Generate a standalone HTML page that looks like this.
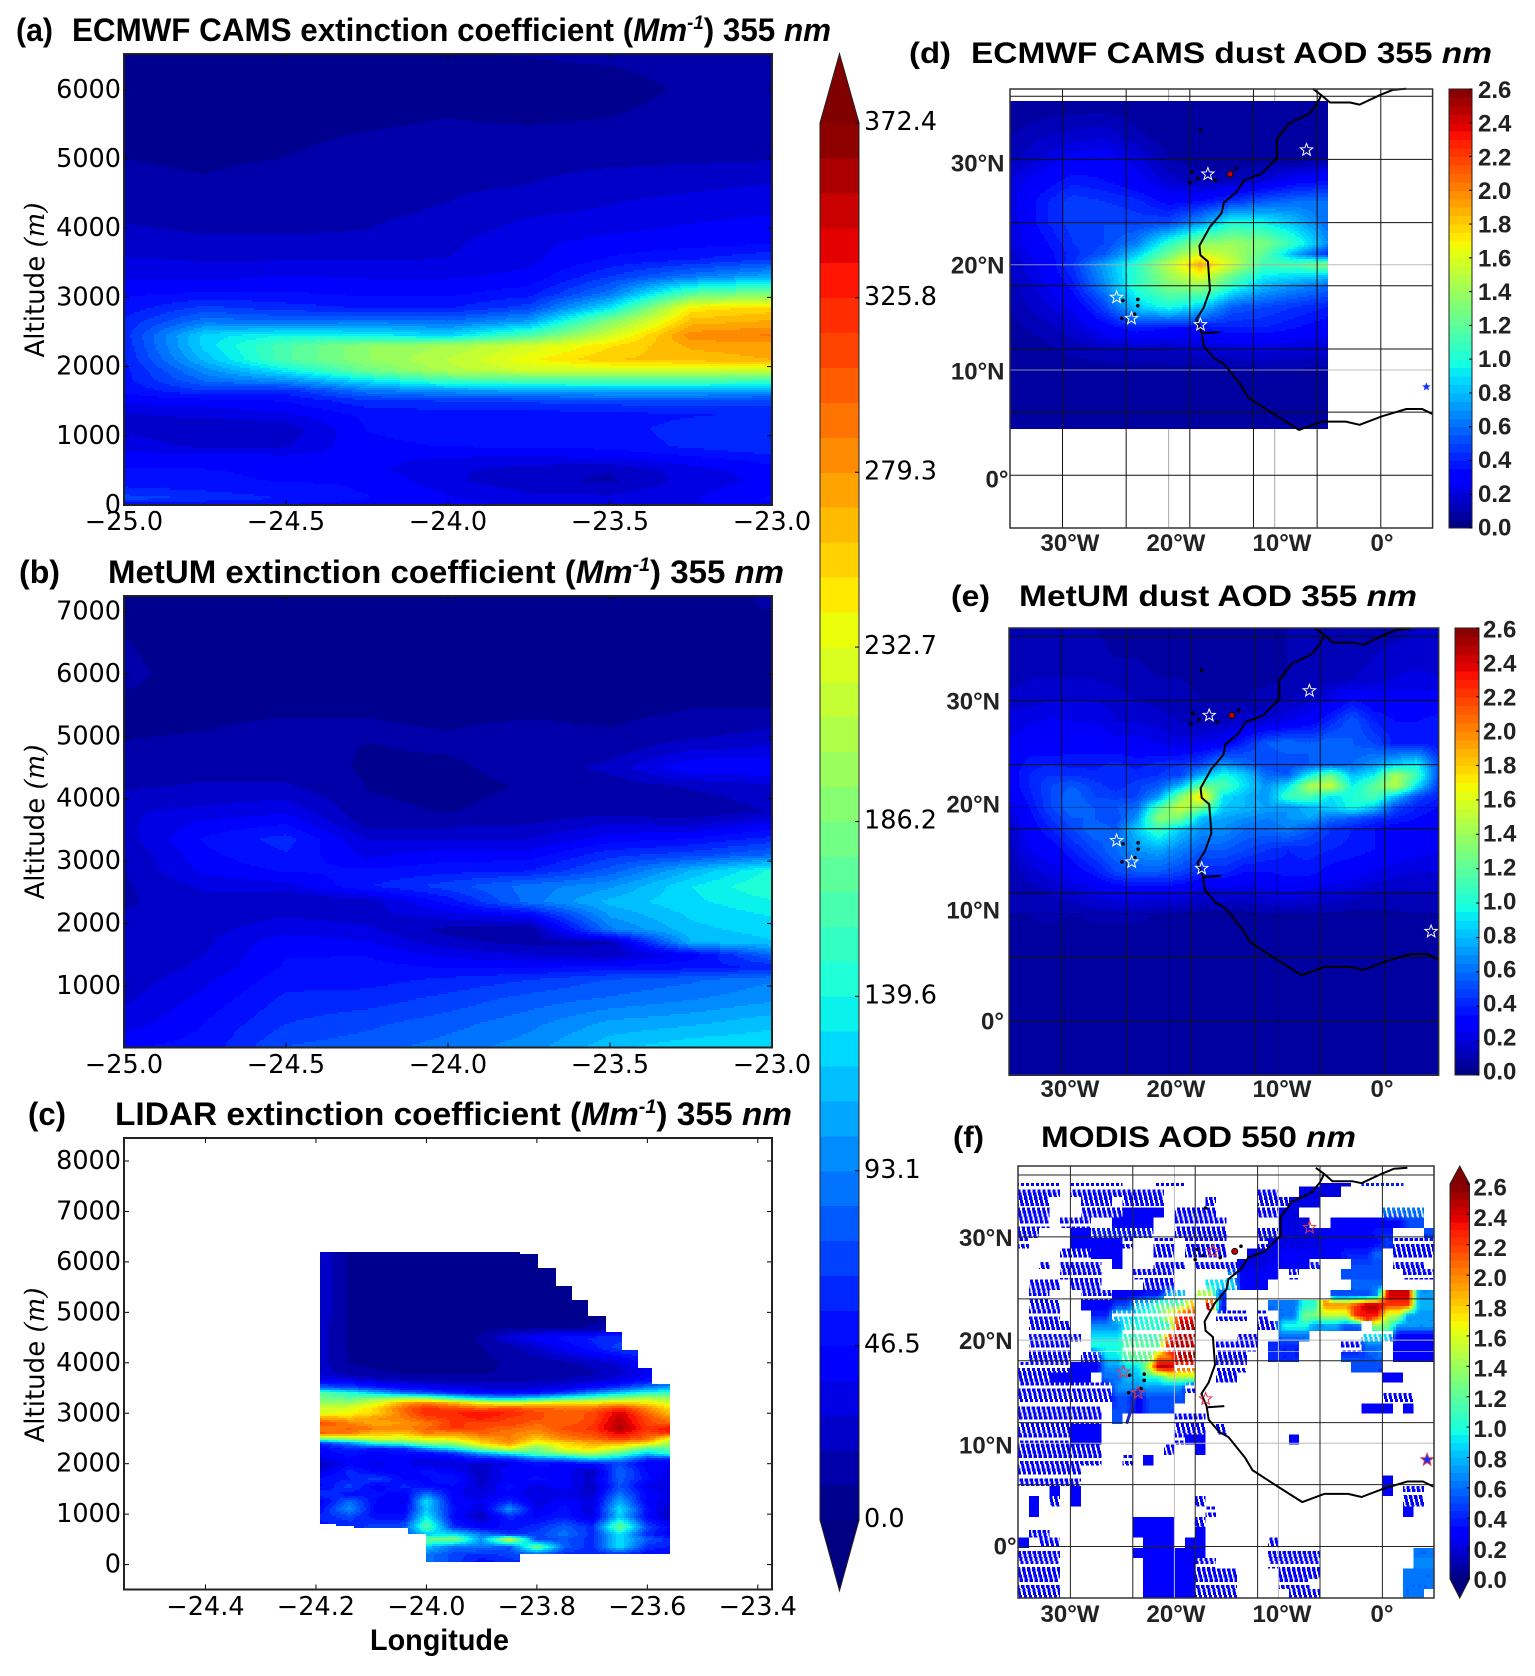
<!DOCTYPE html>
<html lang="en">
<head>
<meta charset="utf-8">
<title>Extinction coefficient and dust AOD panels</title>
<style>
html,body{margin:0;padding:0;background:#fff;}
svg{display:block;}
text{font-family:"DejaVu Sans","Liberation Sans",sans-serif;fill:#000;}
.ttl{font-family:"Liberation Sans",sans-serif;font-weight:700;font-size:30px;}
.ttl-left{font-size:32px;}
.tick{font-size:25.5px;}
.ytitle{font-size:27px;}
.maptick{font-family:"Liberation Sans",sans-serif;font-weight:700;font-size:24px;fill:#222;}
.math{font-family:"DejaVu Serif","Liberation Serif",serif;font-style:italic;}
</style>
</head>
<body>
<svg id="figure" xmlns="http://www.w3.org/2000/svg" width="1535" height="1676" viewBox="0 0 1535 1676">
  <rect width="1535" height="1676" fill="#fff"/>
  <g id="layer"></g>
  <g>
    <text class="ttl ttl-left" x="16" y="41" textLength="37" lengthAdjust="spacingAndGlyphs">(a)</text>
    <text class="ttl ttl-left" x="72" y="41" textLength="759" lengthAdjust="spacingAndGlyphs">ECMWF CAMS extinction coefficient (<tspan font-style="italic">Mm</tspan><tspan font-style="italic" font-size="19" dy="-12">-1</tspan><tspan dy="12">) 355 </tspan><tspan font-style="italic">nm</tspan></text>
    <text class="ttl ttl-left" x="19" y="583" textLength="41" lengthAdjust="spacingAndGlyphs">(b)</text>
    <text class="ttl ttl-left" x="108" y="583" textLength="676" lengthAdjust="spacingAndGlyphs">MetUM extinction coefficient (<tspan font-style="italic">Mm</tspan><tspan font-style="italic" font-size="19" dy="-12">-1</tspan><tspan dy="12">) 355 </tspan><tspan font-style="italic">nm</tspan></text>
    <text class="ttl ttl-left" x="28" y="1125" textLength="38" lengthAdjust="spacingAndGlyphs">(c)</text>
    <text class="ttl ttl-left" x="115" y="1125" textLength="677" lengthAdjust="spacingAndGlyphs">LIDAR extinction coefficient (<tspan font-style="italic">Mm</tspan><tspan font-style="italic" font-size="19" dy="-12">-1</tspan><tspan dy="12">) 355 </tspan><tspan font-style="italic">nm</tspan></text>
    <text class="ttl" x="909" y="63" textLength="42" lengthAdjust="spacingAndGlyphs">(d)</text>
    <text class="ttl" x="971" y="63" textLength="521" lengthAdjust="spacingAndGlyphs">ECMWF CAMS dust AOD 355 <tspan font-style="italic">nm</tspan></text>
    <text class="ttl" x="951" y="606" textLength="39" lengthAdjust="spacingAndGlyphs">(e)</text>
    <text class="ttl" x="1019" y="606" textLength="398" lengthAdjust="spacingAndGlyphs">MetUM dust AOD 355 <tspan font-style="italic">nm</tspan></text>
    <text class="ttl" x="953" y="1147" textLength="31" lengthAdjust="spacingAndGlyphs">(f)</text>
    <text class="ttl" x="1041" y="1147" textLength="315" lengthAdjust="spacingAndGlyphs">MODIS AOD 550 <tspan font-style="italic">nm</tspan></text>
  </g>
  <g>
    <text class="ytitle" transform="translate(44,280) rotate(-90)" text-anchor="middle" textLength="155" lengthAdjust="spacingAndGlyphs">Altitude <tspan class="math">(m)</tspan></text>
    <text class="ytitle" transform="translate(44,822) rotate(-90)" text-anchor="middle" textLength="155" lengthAdjust="spacingAndGlyphs">Altitude <tspan class="math">(m)</tspan></text>
    <text class="ytitle" transform="translate(44,1365) rotate(-90)" text-anchor="middle" textLength="155" lengthAdjust="spacingAndGlyphs">Altitude <tspan class="math">(m)</tspan></text>
    <text class="ttl" x="370" y="1650" textLength="139" lengthAdjust="spacingAndGlyphs">Longitude</text>
  </g>
</svg>
<script>
/* ---------- panel (a) ECMWF CAMS extinction (Mm-1) ---------- */
const camsCurtainLons = [-25,-24.75,-24.5,-24.25,-24,-23.75,-23.5,-23.25,-23];
const camsCurtainAlts = [0,100,200,350,500,650,850,1100,1300,1500,1650,1800,1950,2100,2300,2450,2650,2850,3050,3300,3550,3800,4200,4600,5000,5600,6000,6550];
const camsCurtainExt = [
[45,45,44,42,42,35,30,35,45],
[70,64,55,47,38,30,30,36,48],
[60,56,50,46,36,27,25,34,45],
[50,48,46,46,30,21,17,32,40],
[47,47,45,40,30,23,19,33,42],
[44,44,43,40,35,33,35,42,50],
[33,26,27,44,47,48,50,58,65],
[27,19,22,47,52,50,52,60,65],
[27,30,35,49,50,50,52,55,58],
[40,42,47,62,65,67,70,70,68],
[48,65,60,90,100,105,110,110,105],
[52,85,100,130,160,165,165,165,160],
[52,98,135,180,210,225,225,225,225],
[55,115,165,195,215,240,260,265,270],
[58,125,165,195,205,225,250,272,275],
[60,125,140,135,125,165,225,285,290],
[58,90,85,90,85,105,190,265,272],
[50,68,60,55,55,70,130,245,255],
[45,48,48,45,45,52,90,170,190],
[36,34,38,36,36,40,65,90,110],
[29,27,27,28,28,35,48,55,65],
[22,20,20,20,26,35,40,42,44],
[17,15,15,17,20,27,30,35,37],
[11,10,12,15,17,19,24,26,29],
[9.3,8.5,9.4,12,13,15,16,17,18],
[7,7,7,8,9.3,8,9.3,12,14],
[6,6,6,6,6,6,6.5,10.5,12],
[6,6,6,6,9,10,11,12,13]];
const camsCurtainXTicks = [-25,-24.5,-24,-23.5,-23];
const camsCurtainYTicks = [0,1000,2000,3000,4000,5000,6000];

/* ---------- panel (b) MetUM extinction (Mm-1) ---------- */
const metumCurtainLons = [-25,-24.75,-24.5,-24.25,-24,-23.75,-23.5,-23.25,-23];
const metumCurtainAlts = [20,400,800,1100,1300,1500,1700,1900,2100,2350,2600,2850,3100,3350,3600,3800,4200,4500,4800,5100,5400,6000,7200];
const metumCurtainExt = [
[46,50,75,80,88,98,118,128,130],
[32,47,65,72,80,90,105,110,118],
[26,40,58,60,68,78,85,92,100],
[22,35,52,52,58,65,75,82,92],
[21,30,48,50,46,45,50,52,58],
[20,28,46,46,35,28,22,42,85],
[20,26,44,38,22,15,18,112,120],
[20,25,33,30,15,10,90,118,125],
[20,24,28,25,30,38,102,122,130],
[17,25,18,22,50,88,115,128,138],
[17,30,33,55,70,88,100,130,150],
[18,40,48,48,52,55,78,112,142],
[19,44,55,35,42,42,62,70,85],
[24,48,60,28,28,28,42,48,60],
[25,40,46,15,16,18,28,25,38],
[27,30,35,11,9,12,14,9.4,20],
[17,20,20,9,7,10,12,20,26],
[13,15,15,8,8,12,22,46,46],
[10,11,12,9,10,13,13,26,30],
[8.5,9.2,11,10,9.3,10.5,9.5,12,20],
[8,8,8.5,9,8,8.5,8,9.5,9.5],
[10.5,7,7,7,7,7,7,7,7],
[8,7,7,7,7,7,7,7,10]];
const metumCurtainXTicks = [-25,-24.5,-24,-23.5,-23];
const metumCurtainYTicks = [1000,2000,3000,4000,5000,6000,7000];

/* ---------- panel (c) LIDAR extinction (Mm-1) ---------- */
const lidarLons = [-24.19,-24.14,-24.09,-24.04,-24,-23.95,-23.9,-23.85,-23.8,-23.75,-23.7,-23.65,-23.6,-23.56];
const lidarAlts = [6200,5000,4700,4500,4300,4000,3800,3650,3500,3400,3300,3200,3100,3000,2900,2800,2700,2600,2500,2400,2300,2200,2100,2000,1850,1700,1550,1400,1250,1100,950,750,600,500,350,200,50];
const lidarExt = [
[25,8,6,6,6,6,6,6,6,6,6,6,6,6],
[25,8,7,7,7,7,7,7,7,7,7,7,7,7],
[22,8,7,7,7,7,7,7,8,8,10,12,14,14],
[22,8,7,7,8,8,10,30,42,50,58,62,62,60],
[22,8,7,8,8,8,9,14,26,40,52,70,70,50],
[22,9,8,8,8,8,8,10,12,16,22,30,55,55],
[25,12,10,9,9,9,9,10,12,12,16,25,35,50],
[40,35,25,20,18,16,16,16,18,20,25,35,50,65],
[85,75,60,45,40,35,30,28,30,35,50,70,95,110],
[170,150,120,90,80,60,50,48,55,70,100,125,150,150],
[180,170,190,200,190,150,120,110,125,150,170,190,210,200],
[200,200,230,275,290,270,240,230,240,250,250,260,250,225],
[225,230,255,300,320,310,300,310,300,295,295,320,285,250],
[230,240,255,295,325,325,335,325,310,300,310,345,300,265],
[275,265,280,290,310,320,330,315,310,300,310,350,310,285],
[310,290,270,280,290,320,310,315,300,300,315,355,310,305],
[290,300,290,285,300,320,310,300,290,310,320,360,320,335],
[300,290,260,260,290,280,300,290,280,300,310,340,310,320],
[190,210,235,230,240,250,275,290,260,290,300,320,300,240],
[60,90,140,160,190,200,250,280,230,250,270,270,250,200],
[45,60,55,60,100,135,190,230,180,240,250,220,170,170],
[40,50,42,50,45,60,100,130,170,190,210,170,120,150],
[35,45,40,38,35,42,55,60,90,100,130,110,65,60],
[20,40,35,40,28,30,25,35,50,45,50,70,40,40],
[30,60,42,40,50,40,20,45,40,42,20,85,45,35],
[50,55,70,45,45,55,22,40,50,40,25,80,50,30],
[45,70,40,60,45,45,25,50,30,45,20,75,35,28],
[65,50,50,40,90,40,30,42,30,30,25,90,45,35],
[40,85,45,35,130,40,38,60,30,45,30,110,40,30],
[50,100,40,40,120,50,30,100,35,50,30,130,50,22],
[60,70,50,50,135,45,20,60,45,55,30,120,45,20],
[50,60,70,75,170,60,40,50,60,80,60,180,70,45],
[50,60,70,75,120,130,90,60,70,90,60,130,60,40],
[50,60,70,75,180,190,100,230,70,75,60,130,80,60],
[50,60,70,75,120,85,90,75,180,80,60,130,60,55],
[50,60,70,75,90,70,60,70,75,60,55,60,50,45],
[50,60,70,75,90,70,50,60,70,60,55,60,50,45]];
const lidarEdgeLons = [-24.192,-24.163,-24.13,-24.035,-24,-23.83,-23.797,-23.767,-23.735,-23.706,-23.675,-23.647,-23.617,-23.59,-23.56];
const lidarTopAlts = [6207,6207,6207,6207,6207,6163,5889,5533,5259,4911,4593,4237,3911,3593];
const lidarBottomAlts = [815,763,719,622,37,215,215,215,215,215,215,215,215,215];
const lidarXTicks = [-24.4,-24.2,-24,-23.8,-23.6,-23.4];
const lidarYTicks = [0,1000,2000,3000,4000,5000,6000,7000,8000];

/* ---------- shared extinction colour bar ---------- */
const extBarTicks = [0,46.5,93.1,139.6,186.2,232.7,279.3,325.8,372.4];
const extBarMax = 372.4;
const extBarBands = 40;

/* ---------- panel (d) ECMWF CAMS dust AOD ---------- */
const camsMapLons = [-35,-32,-29,-26,-23,-20,-17,-14,-11,-8,-5];
const camsMapLats = [35.6,32,30,28,26,24,22,21,20,19,18,16,14,12,10,8,4.5];
const camsMapAod = [
[.05,.05,.05,.05,.05,.05,.05,.05,.05,.05,.06],
[.1,.15,.18,.2,.12,.07,.06,.06,.06,.06,.06],
[.13,.2,.28,.3,.22,.1,.07,.06,.07,.07,.08],
[.2,.3,.38,.35,.28,.18,.12,.13,.2,.3,.35],
[.22,.38,.48,.45,.42,.32,.35,.45,.55,.6,.6],
[.2,.38,.48,.5,.48,.5,.7,1.0,.95,.8,.6],
[.2,.32,.45,.5,.65,1.05,1.35,1.4,1.3,1.05,.7],
[.17,.3,.42,.55,.85,1.25,1.6,1.45,1.2,.75,.42],
[.15,.27,.45,.75,1.05,1.5,1.9,1.55,1.1,1.15,1.35],
[.14,.25,.42,.72,1.05,1.4,1.65,1.25,.95,.9,.85],
[.13,.22,.38,.68,1.05,1.3,1.4,1.05,.8,.7,.6],
[.1,.18,.27,.5,.85,1.0,.85,.55,.5,.45,.4],
[.08,.12,.18,.3,.4,.35,.35,.4,.4,.35,.3],
[.07,.08,.12,.15,.15,.15,.18,.2,.22,.2,.18],
[.05,.06,.07,.07,.07,.08,.08,.08,.09,.09,.09],
[.05,.05,.05,.05,.05,.05,.05,.05,.05,.05,.05],
[.05,.05,.05,.05,.05,.05,.05,.05,.05,.05,.05]];

/* ---------- panel (e) MetUM dust AOD ---------- */
const metumMapLons = [-35,-33,-31,-29,-27,-25,-23,-21,-19,-17,-15,-13,-11,-9,-7,-5,-3,-1,1,3,5];
const metumMapLats = [36.9,34,32,30,28,26,24,23,22,21,20,19,18,16,14,12,10,8,6,4,2,0,-2,-5];
const metumMapAod = [
[.1,.1,.1,.1,.1,.08,.08,.08,.08,.08,.08,.08,.08,.1,.1,.12,.12,.12,.12,.15,.15],
[.1,.12,.12,.12,.12,.1,.1,.08,.08,.08,.08,.08,.08,.1,.1,.13,.13,.15,.18,.18,.18],
[.12,.15,.15,.15,.15,.13,.12,.1,.1,.09,.09,.09,.09,.1,.1,.13,.15,.18,.2,.22,.2],
[.18,.18,.2,.2,.2,.18,.15,.13,.12,.1,.1,.1,.12,.15,.18,.25,.35,.3,.3,.28,.3],
[.22,.24,.26,.25,.25,.2,.2,.18,.15,.12,.14,.18,.2,.25,.3,.42,.55,.4,.35,.35,.38],
[.25,.3,.28,.32,.32,.28,.28,.25,.22,.25,.28,.42,.55,.6,.55,.6,.55,.5,.38,.4,.35],
[.3,.38,.4,.38,.38,.42,.38,.42,.45,.5,.7,.6,.5,.5,.55,.55,.6,.7,.85,.95,.5],
[.3,.4,.45,.45,.42,.42,.42,.45,.5,.75,1.0,.85,.6,.55,.95,1.25,.8,.95,1.45,1.1,.5],
[.3,.4,.5,.55,.48,.42,.48,.55,.8,1.25,1.15,.9,.7,.9,1.45,1.55,.95,1.2,1.5,.9,.45],
[.25,.38,.5,.6,.5,.48,.5,.7,1.3,1.8,.9,.8,.7,1.1,1.15,.9,1.0,1.15,.8,.5,.4],
[.22,.35,.5,.6,.55,.55,.6,1.15,1.55,1.3,.85,.8,.75,.7,.8,.85,1.0,.85,.5,.4,.35],
[.18,.32,.45,.55,.55,.5,.7,1.35,1.3,.8,.75,.7,.65,.7,.75,.6,.55,.45,.4,.35,.3],
[.15,.3,.4,.5,.6,.55,.85,1.1,.85,.7,.7,.6,.6,.65,.55,.45,.4,.35,.3,.3,.25],
[.12,.25,.3,.4,.5,.6,.7,.75,.65,.55,.55,.5,.45,.4,.42,.4,.38,.35,.3,.28,.25],
[.1,.18,.22,.3,.38,.5,.55,.55,.5,.42,.42,.35,.35,.38,.38,.32,.3,.25,.22,.2,.2],
[.1,.12,.15,.18,.22,.25,.25,.25,.25,.2,.2,.2,.22,.25,.22,.2,.18,.15,.14,.15,.15],
[.1,.1,.12,.1,.12,.12,.12,.1,.09,.08,.08,.08,.1,.1,.1,.09,.08,.09,.09,.1,.1],
[.1,.09,.07,.06,.06,.06,.06,.06,.06,.05,.05,.05,.06,.06,.06,.06,.06,.06,.06,.07,.07],
[.05,.05,.05,.05,.05,.05,.05,.05,.05,.05,.05,.05,.05,.05,.05,.05,.05,.05,.05,.05,.05],
[.05,.05,.05,.05,.05,.05,.05,.05,.05,.05,.05,.05,.05,.05,.06,.06,.06,.06,.05,.05,.05],
[.05,.05,.05,.05,.05,.05,.05,.05,.05,.05,.05,.05,.05,.07,.08,.08,.08,.07,.05,.05,.05],
[.05,.05,.05,.05,.05,.05,.05,.05,.05,.05,.05,.05,.05,.08,.09,.09,.09,.07,.05,.05,.05],
[.05,.05,.05,.05,.05,.05,.05,.05,.05,.05,.05,.05,.05,.05,.05,.05,.05,.05,.05,.05,.05],
[.05,.05,.05,.05,.05,.05,.05,.05,.05,.05,.05,.05,.05,.05,.05,.05,.05,.05,.05,.05,.05]];

/* ---------- panel (f) MODIS AOD: one list per 1-degree latitude row from the top,
   entries are [first column, last column, AOD]; a negative AOD marks striped swath-edge coverage ---------- */
const modisRows = [
[],
[[0,3,-.3],[5,9,-.3],[13,15,-.3],[29,31,.2],[33,36,-.4]],
[[0,3,-.3],[5,7,-.3],[8,9,-.3],[10,13,-.3],[23,24,-.3],[27,30,.2]],
[[0,2,-.3],[6,8,-.3],[10,13,-.3],[18,18,-.3],[23,25,-.2],[26,28,.2]],
[[0,2,-.3],[6,9,-.3],[10,13,.3],[15,18,-.3],[23,24,-.3],[25,26,.2],[35,38,-.6]],
[[0,2,-.3],[4,6,-.3],[9,12,.3],[15,19,-.3],[25,27,.2],[30,36,.3],[37,38,.5]],
[[0,1,-.3],[5,6,.3],[7,12,-.4],[15,19,-.3],[23,24,-.3],[25,28,.2],[29,33,.3],[34,35,.4],[39,39,.5]],
[[0,0,-.3],[5,9,.3],[10,10,-.3],[13,14,-.3],[16,19,-.3],[23,23,-.3],[24,28,.2],[29,34,.3],[35,35,.5],[36,39,-.3]],
[[4,6,-.3],[7,9,.3],[13,14,-.3],[16,19,-.3],[22,24,.2],[25,30,.3],[31,33,.4],[34,34,.6],[36,39,-.3]],
[[2,2,-.3],[4,7,-.3],[9,9,.3],[13,15,-.3],[17,20,-.3],[21,23,.2],[24,27,.3],[28,28,-.4],[32,34,.5],[36,38,-.3]],
[[4,7,-.3],[11,12,-.3],[13,14,-.3],[20,20,-.7],[21,24,.3],[26,26,-.3],[31,34,.5],[37,39,-.3]],
[[1,3,-.3],[5,7,-.3],[12,14,-.3],[18,20,-.9],[21,23,.3],[32,34,.6]],
[[1,2,-.3],[6,8,-.3],[9,11,.3],[12,13,.4],[14,15,-.8],[17,19,-1.5],[19,19,.4],[30,33,.5],[34,34,.7],[35,37,2.4],[38,39,.7]],
[[1,3,-.3],[6,8,.3],[9,10,.5],[11,12,-.9],[13,15,-1.2],[16,16,-1.8],[18,18,-2.5],[19,19,.4],[24,26,.6],[27,28,1.0],[29,31,2.0],[32,32,2.2],[33,34,2.5],[35,37,2.2],[38,39,.8]],
[[1,3,-.3],[7,8,.4],[9,11,-.9],[12,13,-1.1],[14,14,-1.7],[15,16,-2.3],[19,21,-.3],[23,23,-.3],[25,26,.6],[27,28,1.3],[29,31,1.5],[32,34,2.3],[35,36,1.5],[37,39,.7]],
[[1,4,-.3],[7,9,.7],[10,14,-1.0],[15,16,-2.5],[23,24,-.3],[25,27,1.0],[28,30,.7],[31,32,.5],[34,35,1.3],[36,39,.7]],
[[1,5,-.3],[7,9,.9],[10,13,-1.1],[14,14,-2.2],[15,16,-2.5],[21,22,-.3],[25,27,.6],[33,35,-.9],[36,39,.3]],
[[1,4,-.3],[7,9,1.0],[10,13,-1.2],[14,16,-2.5],[19,22,-.3],[24,26,.4],[31,32,-.3],[33,34,.6],[36,39,.3]],
[[1,4,-.3],[6,7,-.3],[8,9,.9],[10,12,-1.2],[13,14,2.0],[15,16,-2.5],[19,21,-.3],[24,26,.4],[31,33,.5],[34,34,.6],[36,39,.3]],
[[0,4,-.3],[5,7,.3],[8,9,.7],[10,11,.9],[12,12,1.5],[13,14,2.5],[15,16,-2.2],[19,21,-.3],[32,34,.5]],
[[0,3,-.3],[3,6,.3],[8,9,.6],[10,11,.8],[12,13,1.0],[14,16,1.4],[19,20,-.3],[35,36,.3]],
[[0,4,-.3],[5,8,-.3],[9,11,.7],[12,15,.7],[16,16,-.3]],
[[0,4,-.3],[5,8,-.3],[9,10,.5],[11,11,.3],[12,15,.5],[35,37,-.3]],
[[0,4,-.3],[5,7,-.3],[9,10,.5],[11,11,.3],[12,14,.5],[33,35,.3],[37,37,.3]],
[[0,3,-.3],[4,7,-.3],[9,9,.5],[15,17,-.3]],
[[0,5,-.3],[5,7,.3],[15,17,-.3],[19,19,-.3]],
[[0,4,-.3],[5,7,.3],[15,15,-.3],[16,17,.3],[26,26,.3]],
[[0,4,-.3],[5,7,-.3],[14,14,-.3],[17,17,.3]],
[[0,3,-.3],[4,7,-.3],[10,10,-.3],[12,12,.3]],
[[0,5,-.3]],
[[0,5,-.3],[35,35,.3]],
[[3,3,.3],[5,5,.3],[35,35,.3],[37,38,-.3]],
[[1,1,.3],[3,3,-.3],[5,5,.3],[17,17,-.3],[37,38,-.3]],
[[1,1,.3],[18,18,-.3],[37,37,.3]],
[[11,14,.3],[17,17,-.3]],
[[1,2,-.3],[11,14,.3],[17,17,.3]],
[[0,0,.3],[2,3,-.3],[12,14,.3],[16,17,.3],[24,24,-.3]],
[[0,3,-.3],[11,17,.3],[24,28,-.3],[38,39,.6]],
[[0,3,-.3],[12,16,.3],[17,18,-.3],[24,28,-.3],[38,39,.7]],
[[0,3,-.3],[12,16,.3],[17,20,-.3],[25,28,-.3],[37,39,.6]],
[[0,3,-.3],[12,16,.3],[17,20,-.3],[25,27,-.3],[37,39,.6]],
[[0,3,-.3],[12,16,.3],[17,20,-.3],[26,28,-.3],[37,38,.6]]];
const modisStreakLons = [-23.5,-24.6];
const modisStreakLats = [15.3,11.9];

/* ---------- shared map geography ---------- */
const coastLons = [-6.4,-5.6,-6.0,-6.8,-8.7,-9.8,-9.8,-11.3,-12.9,-13.6,-14.8,-15.0,-16.1,-17.1,-17.0,-16.3,-16.1,-16.7,-17.4,-16.9,-16.7,-15.7,-14.8,-13.2,-12.5,-10.2,-7.7,-5.6,-3.3,-2.0,0.1,2.4,3.9,4.9];
const coastLats = [36.7,36.1,35.3,34.3,33.4,31.9,30.1,28.6,28.0,26.9,25.9,24.9,23.6,21.8,20.9,20.3,17.6,15.9,14.8,13.6,12.3,11.1,10.6,8.6,7.4,5.9,4.3,5.1,5.1,4.8,5.6,6.3,6.3,5.8];
const medLons = [-5.6,-4.8,-2.9,-2.0,-0.1,1.1,2.4];
const medLats = [36.1,35.4,35.4,35.2,36.1,36.6,36.7];
const gambiaLons = [-16.8,-15.2];
const gambiaLats = [13.5,13.6];
const islandLons = [-17.8,-18,-17.25,-15.6,-13.6,-17,-24.4,-22.9,-22.9,-23.2,-24.3,-14.2];
const islandLats = [28.8,27.8,28.2,28,29.1,32.8,14.9,16.7,16.1,15.3,16.6,28.6];
const stationLons = [-7.0,-16.3,-24.9,-23.5,-17,4.3];
const stationLats = [30.9,28.6,16.9,14.9,14.3,8.4];
const mapGridLons = [-30,-24,-18,-12,-6,0];
const mapGridLats = [36,30,24,18,12,6,0];
const mapGreyLons = [-20,-10];
const mapGreyLats = [20,10];
const mapXLabels = ['30°W','20°W','10°W','0°'];
const mapXLabelLons = [-30,-20,-10,0];
const mapYLabels = ['30°N','20°N','10°N','0°'];
const mapYLabelLats = [30,20,10,0];
const aodBarLabels = ['0.0','0.2','0.4','0.6','0.8','1.0','1.2','1.4','1.6','1.8','2.0','2.2','2.4','2.6'];
const aodBarValues = [0,.2,.4,.6,.8,1,1.2,1.4,1.6,1.8,2,2.2,2.4,2.6];
const aodBarMax = 2.6;
const aodBarBands = 52;

/* ---------- helpers ---------- */
const NS = 'http://www.w3.org/2000/svg';
const layer = document.getElementById('layer');
function jet(x){
  x = Math.max(0, Math.min(1, x));
  const seg = (p, v) => {
    for (let i = 0; i < p.length - 1; i++) {
      if (x <= p[i + 1]) return v[i] + (v[i + 1] - v[i]) * (x - p[i]) / (p[i + 1] - p[i]);
    }
    return v[v.length - 1];
  };
  const r = seg([0,.35,.66,.89,1],[0,0,1,1,.5]);
  const g = seg([0,.125,.375,.64,.91,1],[0,0,1,1,0,0]);
  const b = seg([0,.11,.34,.65,1],[.5,1,1,0,0]);
  return 'rgb(' + Math.round(r * 255) + ',' + Math.round(g * 255) + ',' + Math.round(b * 255) + ')';
}
function bandColor(v, max, bands){
  let l = Math.floor(v / max * bands);
  l = Math.max(0, Math.min(bands - 1, l));
  return jet((l + .5) / bands);
}
function make(tag, parent, attrs){
  const el = document.createElementNS(NS, tag);
  for (const k in attrs) el.setAttribute(k, attrs[k]);
  parent.appendChild(el);
  return el;
}
function locate(a, v){
  const n = a.length;
  const asc = a[n - 1] > a[0];
  for (let i = 0; i < n - 1; i++) {
    const lo = a[i], hi = a[i + 1];
    if (asc ? v <= hi : v >= hi) {
      return [i, Math.max(0, Math.min(1, (v - lo) / (hi - lo)))];
    }
  }
  return [n - 2, 1];
}
function sampler(xs, ys, grid){
  return (x, y) => {
    const a = locate(xs, x), b = locate(ys, y);
    const r0 = grid[b[0]], r1 = grid[b[0] + 1];
    const top = r0[a[0]] + (r0[a[0] + 1] - r0[a[0]]) * a[1];
    const bot = r1[a[0]] + (r1[a[0] + 1] - r1[a[0]]) * a[1];
    return top + (bot - top) * b[1];
  };
}
function linear(d0, d1, p0, p1){
  const f = v => p0 + (v - d0) * (p1 - p0) / (d1 - d0);
  f.inv = p => d0 + (p - p0) * (d1 - d0) / (p1 - p0);
  return f;
}
function drawField(group, sx, sy, x0, x1, y0, y1, value, max, bands, visible){
  const step = 2;
  for (let py = y0; py < y1; py += step) {
    const yv = sy.inv(py + step / 2);
    let runStart = null, runColor = null;
    const flush = end => {
      if (runColor) {
        const cell = make('rect', group, {x: runStart, y: py, width: end - runStart, height: step, fill: runColor});
        
        
      }
    };
    for (let px = x0; px < x1; px += step) {
      const xv = sx.inv(px + step / 2);
      const c = (!visible || visible(xv, yv)) ? bandColor(value(xv, yv), max, bands) : null;
      if (c !== runColor) {
        flush(px);
        runStart = px;
        runColor = c;
      }
    }
    flush(x1);
  }
}
function axisTicks(group, frame, sx, sy, xTicks, yTicks, xFmt, xBase){
  xTicks.forEach(t => {
    const x = sx(t);
    const top = make('line', group, {x1: x, x2: x, y1: frame.y0, y2: frame.y0 + 5, stroke: '#000'});
    
    
    const bot = make('line', group, {x1: x, x2: x, y1: frame.y1 - 5, y2: frame.y1, stroke: '#000'});
    
    
    const lab = make('text', group, {x: x, y: xBase, 'text-anchor': 'middle', 'class': 'tick'});
    lab.textContent = xFmt(t);
    
    
  });
  yTicks.forEach(t => {
    const y = sy(t);
    const l = make('line', group, {x1: frame.x0, x2: frame.x0 + 5, y1: y, y2: y, stroke: '#000'});
    
    
    const r = make('line', group, {x1: frame.x1 - 5, x2: frame.x1, y1: y, y2: y, stroke: '#000'});
    
    
    const lab = make('text', group, {x: frame.x0 - 3, y: y + 8, 'text-anchor': 'end', 'class': 'tick'});
    lab.textContent = String(t);
    
    
  });
}
function drawFrame(group, f, w, col){
  const r = make('rect', group, {x: f.x0, y: f.y0, width: f.x1 - f.x0, height: f.y1 - f.y0, fill: 'none', stroke: col, 'stroke-width': w});
  
  
}
const fmt1 = v => (v < 0 ? '\u2212' : '') + Math.abs(v).toFixed(1);

/* ---------- curtain panels ---------- */
function curtainPanel(name, frame, sx, sy, xs, ys, grid, xTicks, yTicks, xBase, visible){
  const g = make('g', layer, {});
  
  
  const cells = make('g', g, {'shape-rendering': 'crispEdges'});
  
  
  drawField(cells, sx, sy, Math.round(frame.x0), Math.round(frame.x1), Math.round(frame.y0), Math.round(frame.y1), sampler(xs, ys, grid), extBarMax, extBarBands, visible);
  axisTicks(g, frame, sx, sy, xTicks, yTicks, fmt1, xBase);
  drawFrame(g, frame, 2, '#222');
}
const frameA = {x0: 124, x1: 772, y0: 54, y1: 505};
curtainPanel('panel-a', frameA, linear(-25, -23, 124, 772), linear(0, 1000, 505, 435.8), camsCurtainLons, camsCurtainAlts, camsCurtainExt, camsCurtainXTicks, camsCurtainYTicks, 530);
const frameB = {x0: 124, x1: 772, y0: 596, y1: 1047.5};
curtainPanel('panel-b', frameB, linear(-25, -23, 124, 772), linear(1000, 7000, 986, 611.4), metumCurtainLons, metumCurtainAlts, metumCurtainExt, metumCurtainXTicks, metumCurtainYTicks, 1073);
const frameC = {x0: 124, x1: 772, y0: 1138, y1: 1589.5};
const lidarX = linear(-24.4, -23.4, 205.5, 757.8);
const lidarY = linear(0, 8000, 1564.6, 1161);
function lidarVisible(lon, alt){
  if (lon < lidarEdgeLons[0] || lon > lidarEdgeLons[lidarEdgeLons.length - 1]) return false;
  for (let i = 0; i < lidarTopAlts.length; i++) {
    if (lon <= lidarEdgeLons[i + 1]) return alt <= lidarTopAlts[i] && alt >= lidarBottomAlts[i];
  }
  return false;
}
curtainPanel('panel-c', frameC, lidarX, lidarY, lidarLons, lidarAlts, lidarExt, lidarXTicks, lidarYTicks, 1615, lidarVisible);

/* ---------- colour bars ---------- */
function colorBar(name, x0, x1, yBottom, yTop, tipTop, tipBottom, bands){
  const g = make('g', layer, {});
  
  
  const h = (yBottom - yTop) / bands;
  for (let i = 0; i < bands; i++) {
    const b = make('rect', g, {x: x0, y: yBottom - (i + 1) * h, width: x1 - x0, height: h + .5, fill: jet((i + .5) / bands), 'shape-rendering': 'crispEdges'});
    
    
  }
  const mid = (x0 + x1) / 2;
  let outline = x0 + ',' + yBottom + ' ' + x0 + ',' + yTop + ' ';
  if (tipTop !== null) {
    const up = make('polygon', g, {points: x0 + ',' + yTop + ' ' + mid + ',' + tipTop + ' ' + x1 + ',' + yTop, fill: jet(1)});
    
    
    outline += mid + ',' + tipTop + ' ';
  }
  outline += x1 + ',' + yTop + ' ' + x1 + ',' + yBottom + ' ';
  if (tipBottom !== null) {
    const dn = make('polygon', g, {points: x0 + ',' + yBottom + ' ' + mid + ',' + tipBottom + ' ' + x1 + ',' + yBottom, fill: jet(0)});
    
    
    outline += mid + ',' + tipBottom + ' ';
  }
  const o = make('polygon', g, {points: outline, fill: 'none', stroke: '#222', 'stroke-width': 1});
  
  
  return g;
}
const extBarG = colorBar('extinction-colorbar', 820, 859, 1520, 123, 53.6, 1590.7, extBarBands);
const extBarY = linear(0, extBarMax, 1520, 123);
extBarTicks.forEach(t => {
  const y = extBarY(t);
  const tk = make('line', extBarG, {x1: 855, x2: 859, y1: y, y2: y, stroke: '#000'});
  
  
  const lab = make('text', extBarG, {x: 864, y: y + 7, 'class': 'tick'});
  lab.textContent = t.toFixed(1);
  
  
});
function aodBarTicks(g, x1, yOfValue, labelX, labelY){
  aodBarValues.forEach((v, i) => {
    const y = yOfValue(v);
    const tk = make('line', g, {x1: x1 - 3, x2: x1, y1: y, y2: y, stroke: '#000'});
    
    
    const lab = make('text', g, {x: labelX, y: labelY(v) + 8, 'class': 'maptick'});
    lab.textContent = aodBarLabels[i];
    
    
  });
}

/* ---------- map panels ---------- */
function poly(g, sx, sy, lons, lats, stroke, width, name){
  const pts = lons.map((lo, i) => sx(lo).toFixed(1) + ',' + sy(lats[i]).toFixed(1)).join(' ');
  const p = make('polyline', g, {points: pts, fill: 'none', stroke: stroke, 'stroke-width': width, 'stroke-linejoin': 'round'});
  
  
}
function starPoints(cx, cy, r){
  const out = [];
  for (let i = 0; i < 10; i++) {
    const rr = i % 2 ? r * .42 : r;
    const a = -Math.PI / 2 + i * Math.PI / 5;
    out.push((cx + rr * Math.cos(a)).toFixed(1) + ',' + (cy + rr * Math.sin(a)).toFixed(1));
  }
  return out.join(' ');
}
function greyMeridians(g, frame, sx, stroke, opacity){
  mapGreyLons.forEach(l => {
    const e = make('line', g, {x1: sx(l), x2: sx(l), y1: frame.y0, y2: frame.y1, stroke: stroke, 'stroke-opacity': opacity, 'stroke-width': 1});
    
    
  });
}
function greyParallels(g, frame, sy, stroke, opacity){
  mapGreyLats.forEach(l => {
    const e = make('line', g, {x1: frame.x0, x2: frame.x1, y1: sy(l), y2: sy(l), stroke: stroke, 'stroke-opacity': opacity, 'stroke-width': 1});
    
    
  });
}
function mapOverlay(g, frame, sx, sy, lineCol, starStroke, starFill, lastStarFill, lastStarStroke, lastStarR, xBase, yRight, yOffsets){
  mapGridLons.forEach(l => {
    const e = make('line', g, {x1: sx(l), x2: sx(l), y1: frame.y0, y2: frame.y1, stroke: lineCol, 'stroke-width': 1});
    
    
  });
  mapGridLats.forEach(l => {
    const e = make('line', g, {x1: frame.x0, x2: frame.x1, y1: sy(l), y2: sy(l), stroke: lineCol, 'stroke-width': 1});
    
    
  });
  poly(g, sx, sy, coastLons, coastLats, '#000', 2, 'coastline');
  poly(g, sx, sy, medLons, medLats, '#000', 2, 'mediterranean-coast');
  poly(g, sx, sy, gambiaLons, gambiaLats, '#000', 2, 'gambia-river');
  islandLons.forEach((lo, i) => {
    const isRed = i === islandLons.length - 1;
    const d = make('circle', g, {cx: sx(lo), cy: sy(islandLats[i]), r: isRed ? 3 : 1.8, fill: isRed ? '#c00' : '#000', stroke: '#000', 'stroke-width': isRed ? 1 : 0});
    
    
  });
  stationLons.forEach((lo, i) => {
    const last = i === stationLons.length - 1;
    const s = make('polygon', g, {points: starPoints(sx(lo), sy(stationLats[i]), last ? lastStarR : 6.5), fill: last ? lastStarFill : starFill, stroke: last ? lastStarStroke : starStroke, 'stroke-width': 1});
    
    
  });
  drawFrame(g, frame, 1.5, '#333');
  mapXLabels.forEach((t, i) => {
    const lon = mapXLabelLons[i];
    const x = 1382 + 10.6 * lon + (lon < 0 ? 6 : 0);
    const lab = make('text', g, {x: x, y: xBase, 'text-anchor': 'middle', 'class': 'maptick'});
    lab.textContent = t;
    
    
  });
  mapYLabels.forEach((t, i) => {
    const lat = mapYLabelLats[i];
    const lab = make('text', g, {x: lat === 0 ? yRight + 4 : yRight, y: sy(lat) + yOffsets[i], 'text-anchor': 'end', 'class': 'maptick'});
    lab.textContent = t;
    
    
  });
}

/* panel d */
const frameD = {x0: 1010, x1: 1432.6, y0: 89, y1: 528};
const dX = linear(0, 10, 1380.8, 1486.9);
const dY = linear(0, 10, 475.3, 370);
const gD = make('g', layer, {});


greyMeridians(gD, frameD, dX, '#aaa', 1);
const cellsD = make('g', gD, {'shape-rendering': 'crispEdges'});


drawField(cellsD, dX, dY, 1010, 1328, 101, 428, sampler(camsMapLons, camsMapLats, camsMapAod), aodBarMax, aodBarBands);
greyParallels(gD, frameD, dY, '#aaa', .8);
mapOverlay(gD, frameD, dX, dY, '#111', '#fff', 'none', '#1030ff', 'none', 4.5, 551, 1004.5, [12,9,9.5,12]);
const barD = colorBar('panel-d-colorbar', 1449, 1472, 528, 89, null, null, aodBarBands);
aodBarTicks(barD, 1472, linear(0, 2.6, 528, 89), 1478, linear(0, 2.6, 527.5, 90));

/* panel e */
const frameE = {x0: 1009, x1: 1438.7, y0: 628, y1: 1075};
const eX = linear(0, 10, 1384.8, 1492.5);
const eY = linear(0, 10, 1021.4, 914.4);
const gE = make('g', layer, {});


const cellsE = make('g', gE, {'shape-rendering': 'crispEdges'});


drawField(cellsE, eX, eY, 1009, 1439, 628, 1075, sampler(metumMapLons, metumMapLats, metumMapAod), aodBarMax, aodBarBands);
greyMeridians(gE, frameE, eX, '#000', .3);
greyParallels(gE, frameE, eY, '#000', .3);
mapOverlay(gE, frameE, eX, eY, '#111', '#fff', 'none', 'none', '#fff', 6.5, 1097, 1000, [9,5,4,8]);
const barE = colorBar('panel-e-colorbar', 1455, 1479, 1075, 628, null, null, aodBarBands);
aodBarTicks(barE, 1479, linear(0, 2.6, 1075, 628), 1483, linear(0, 2.6, 1071.6, 629.6));

/* panel f */
const frameF = {x0: 1018, x1: 1434, y0: 1166, y1: 1598};
const fX = linear(0, 10, 1382.4, 1486.4);
const fY = linear(0, 10, 1546.5, 1443.3);
const gF = make('g', layer, {});


const cellsF = make('g', gF, {'shape-rendering': 'crispEdges'});


const modisGrid = modisRows.map(runs => {
  const row = new Array(40).fill(null);
  runs.forEach(run => {
    for (let c = run[0]; c <= run[1]; c++) row[c] = Math.abs(run[2]);
  });
  return row;
});
function modisValue(lon, lat){
  const cf = lon + 35 - .5, rf = 36.87 - lat - .5;
  const c0 = Math.floor(cf), r0 = Math.floor(rf);
  let sum = 0, wsum = 0;
  for (let r = r0; r <= r0 + 1; r++) {
    for (let c = c0; c <= c0 + 1; c++) {
      const rowVals = modisGrid[r];
      const v = rowVals ? rowVals[c] : null;
      if (v === null || v === undefined) continue;
      const w = (1 - Math.abs(cf - c)) * (1 - Math.abs(rf - r));
      sum += v * w;
      wsum += w;
    }
  }
  return wsum ? sum / wsum : 0;
}
modisRows.forEach((runs, j) => {
  const latTop = 36.87 - j;
  const y0 = Math.max(fY(latTop), 1183), y1 = Math.min(fY(latTop - 1), 1598);
  runs.forEach(run => {
    const x0 = fX(-35 + run[0]), x1 = fX(-35 + run[1] + 1);
    if (run[2] > 0) {
      for (let py = y0; py < y1 - .01; py += 3) {
        const h = Math.min(3, y1 - py);
        for (let px = x0; px < x1 - .01; px += 3) {
          const w = Math.min(3, x1 - px);
          const fillCol = bandColor(modisValue(fX.inv(px + w / 2), fY.inv(py + h / 2)), aodBarMax, aodBarBands);
          const solid = make('rect', cellsF, {x: px.toFixed(1), y: py.toFixed(1), width: w.toFixed(1), height: h.toFixed(1), fill: fillCol});
          
          
        }
      }
    } else {
      for (let py = y0; py < y1 - .01; py += 3) {
        if (Math.floor(py / 3) % 6 === 5) continue;
        const h = Math.min(3, y1 - py);
        const offset = (py * .25) % 5;
        const start = Math.floor((x0 - offset) / 5) * 5 + offset;
        for (let px = start; px < x1; px += 5) {
          const a = Math.max(px, x0), b = Math.min(px + 3.2, x1);
          if (b - a < .5) continue;
          const fillCol = bandColor(modisValue(fX.inv((a + b) / 2), fY.inv(py + h / 2)), aodBarMax, aodBarBands);
          const stripe = make('rect', cellsF, {x: a.toFixed(1), y: py.toFixed(1), width: (b - a).toFixed(1), height: h.toFixed(1), fill: fillCol});
          
          
        }
      }
    }
  });
});
poly(gF, fX, fY, modisStreakLons, modisStreakLats, '#1a2ac0', 3, 'modis-streak');
greyMeridians(gF, frameF, fX, '#bbb', 1);
greyParallels(gF, frameF, fY, '#bbb', 1);
mapOverlay(gF, frameF, fX, fY, '#222', '#e8344a', 'none', '#1030ff', '#e8344a', 6.5, 1622, 1012.6, [9,9,10,8]);
const barF = colorBar('panel-f-colorbar', 1450, 1469.5, 1579, 1184, 1166, 1598, aodBarBands);
aodBarTicks(barF, 1469.5, linear(0, 2.6, 1579, 1184), 1473.5, linear(0, 2.6, 1580, 1187.6));
</script>
</body>
</html>
